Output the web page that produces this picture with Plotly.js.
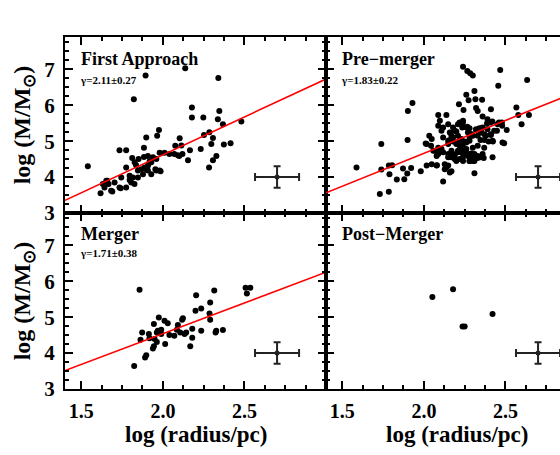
<!DOCTYPE html>
<html>
<head>
<meta charset="utf-8">
<script src="https://cdn.plot.ly/plotly-3.0.1.min.js"></script>
<style>
html,body{margin:0;padding:0;overflow:hidden;background:#fff;width:560px;height:455px;}
#plot{width:600px;height:455px;}
</style>
</head>
<body>
<div id="plot"></div>
<script>
// ---------------- data ----------------
const panelNames = ['First Approach', 'Pre\u2212merger', 'Merger', 'Post\u2212Merger'];
const gammaLabels = ['\u03b3=2.11\u00b10.27', '\u03b3=1.83\u00b10.22', '\u03b3=1.71\u00b10.38', ''];
const fitSlope = [2.11, 1.83, 1.71, null];
const fitIntercept = [0.40, 1.00, 1.12, null];
const xRange = [1.4, 3.0];
const yRange = [3.0, 7.9];
const xTickVals = [1.5, 2.0, 2.5];
const xTickText = ['1.5', '2.0', '2.5'];
const yTickVals = [3, 4, 5, 6, 7];
const xTitle = 'log (radius/pc)';
const yTitle = 'log (M/M<sub>\u2299</sub>)';

// typical error bar shown in each panel
const errX = [2.7];
const errY = [4.0];
const errDx = [0.135];
const errDy = [0.3];

// First Approach
const faX = [1.54,2.137,1.894,2.34,1.822,2.178,2.346,2.178,2.248,2.337,2.368,2.481,2.252,2.285,2.307,2.297,2.374,2.415,2.328,2.307,2.283,2.232,2.166,2.103,2.113,2.076,2.092,2.12,2.154,2.10,1.976,1.965,1.898,1.884,1.734,1.775,1.98,2.01,2.04,2.07,1.812,1.884,1.908,1.929,1.96,1.775,1.836,1.847,1.867,1.888,1.908,1.929,1.96,1.986,1.816,1.806,1.826,1.796,1.745,1.734,1.775,1.704,1.653,1.642,1.618,1.683,1.667,1.919,1.939,1.851,1.827,1.898,1.954,1.878,1.847,1.796,1.741,1.69,1.632,1.659,1.98,1.909];
const faY = [4.30,7.03,6.83,6.76,6.17,5.94,5.84,5.66,5.66,5.61,5.47,5.55,5.17,5.25,5.09,4.92,4.91,4.94,4.59,4.47,4.27,4.78,4.75,5.08,4.88,4.87,4.61,4.64,4.47,4.59,5.31,5.15,5.10,4.82,4.75,4.75,4.68,4.68,4.64,4.64,4.53,4.56,4.59,4.41,4.50,4.27,4.33,4.18,4.22,4.27,4.18,4.08,4.18,4.16,3.99,3.85,3.81,4.04,3.99,3.71,3.71,3.85,3.90,3.71,3.55,3.62,3.81,4.44,4.55,4.50,4.41,4.22,4.22,4.08,3.99,3.92,3.69,3.60,3.81,3.90,4.18,4.32];

// Pre-merger
const pmX = [1.587,1.739,1.90,1.902,1.93,1.739,1.785,1.805,1.789,1.834,1.88,1.872,1.898,1.922,1.73,1.785,1.981,2.044,2.08,2.068,
  2.24,2.266,2.284,2.30,2.468,2.633,2.456,2.31,2.274,2.567,2.579,2.644,2.599,2.508,2.492,
  2.26,2.316,2.357,2.215,2.243,2.32,2.33,2.411,2.088,2.138,2.36,2.39,2.42,2.46,2.48,
  2.098,2.088,2.118,2.108,2.149,2.179,2.159,2.189,2.209,2.239,2.26,2.235,2.033,2.048,2.017,2.27,2.29,2.32,2.35,2.36,2.39,2.38,2.41,2.431,2.421,2.482,
  2.118,2.149,2.179,2.199,2.219,2.239,2.26,2.28,2.30,2.25,2.229,2.209,2.189,2.169,2.149,2.118,2.078,2.058,2.088,2.239,2.27,2.30,2.33,2.36,2.37,2.33,2.31,2.28,2.199,2.219,
  2.048,2.017,2.078,2.149,2.159,2.128,2.421,2.31,2.118,
  2.219,2.24,2.266,2.28,2.32,2.34,2.355,2.387,2.407,2.452,2.478,2.448,2.411,2.371,2.199,2.209,2.23,2.25,2.28,2.30,2.33,2.347,2.371,2.397,2.423,2.169,2.159,2.179,2.149,2.199,2.219,2.24,2.26,2.209,2.23,2.25,2.27,2.29,2.31,2.33,2.347,2.367,2.169,2.179,2.189,2.24,2.28,2.30,2.149,2.108,2.088,2.138,2.169,2.088,2.128,2.011];
const pmY = [4.27,4.92,5.03,5.84,6.06,4.21,4.32,4.33,4.08,3.93,3.94,4.24,4.10,4.25,3.53,3.59,4.16,4.87,4.33,4.73,
  7.07,6.95,6.89,6.83,6.98,6.70,6.54,6.40,6.14,5.935,5.73,5.73,5.47,5.31,4.94,
  6.29,6.17,6.15,6.03,5.87,5.92,5.84,5.89,5.73,5.73,5.69,5.61,5.55,5.52,5.43,
  5.57,5.43,5.38,5.29,5.47,5.38,5.24,5.29,5.47,5.52,5.38,5.38,5.15,5.06,4.92,5.24,5.20,5.33,5.24,5.38,5.33,5.15,5.19,5.29,5.01,4.96,
  5.10,5.01,5.10,4.96,5.01,4.92,4.96,5.01,4.82,4.73,4.82,4.69,4.59,4.55,4.64,4.69,4.59,4.73,4.73,4.55,4.59,4.55,4.59,4.64,4.82,4.87,4.45,4.45,4.45,4.50,
  4.36,4.32,4.32,4.32,4.13,4.22,4.55,4.11,3.88,
  5.52,5.57,5.40,5.36,5.31,5.36,5.36,5.49,5.52,5.47,5.52,5.29,5.17,5.19,5.27,5.15,5.06,4.99,5.10,5.15,5.15,5.03,5.03,4.99,4.99,5.15,5.03,4.99,4.92,4.92,4.87,4.82,4.78,4.73,4.69,4.64,4.64,4.66,4.64,4.53,4.55,4.53,4.73,4.64,4.50,4.45,4.45,4.45,4.55,4.78,4.82,4.27,4.16,4.64,4.36,4.935];

// Merger
const mgX = [1.857,2.204,2.315,2.507,2.536,2.515,2.29,2.235,2.20,2.286,2.29,2.123,2.118,1.975,2.01,2.03,1.945,2.092,2.086,1.99,1.969,1.963,1.99,2.04,2.07,2.106,2.133,2.143,2.18,2.235,2.327,2.323,2.368,1.873,1.863,1.914,1.918,1.949,1.963,1.945,1.939,2.014,2.18,2.168,1.898,1.891,1.824];
const mgY = [5.76,5.61,5.74,5.82,5.82,5.66,5.41,5.24,5.18,5.10,4.93,4.97,4.93,4.99,4.90,4.83,4.81,4.78,4.65,4.65,4.62,4.57,4.53,4.50,4.48,4.57,4.53,4.57,4.68,4.62,4.62,4.57,4.64,4.57,4.37,4.53,4.41,4.39,4.31,4.19,4.13,4.25,4.43,4.19,3.94,3.88,3.64];

// Post-Merger
const poX = [2.052,2.179,2.237,2.25,2.421];
const poY = [5.56,5.78,4.74,4.74,5.09];

const panelX = [faX, pmX, mgX, poX];
const panelY = [faY, pmY, mgY, poY];

// ---------------- drawing ----------------
const FONT = 'Liberation Serif, Times New Roman, serif';
const axisSuffix = ['', '2', '3', '4'];
const traces = [];
const annotations = [];

for (let i = 0; i < 4; i++) {
  const xa = 'x' + axisSuffix[i], ya = 'y' + axisSuffix[i];
  traces.push({
    type: 'scatter', mode: 'markers', x: panelX[i], y: panelY[i],
    xaxis: xa, yaxis: ya, marker: {color: '#000', size: 6}, showlegend: false, hoverinfo: 'skip'
  });
  traces.push({
    type: 'scatter', mode: 'markers', x: errX, y: errY, xaxis: xa, yaxis: ya,
    marker: {color: '#222', size: 5},
    error_x: {type: 'data', array: errDx, color: '#222', thickness: 2, width: 4},
    error_y: {type: 'data', array: errDy, color: '#222', thickness: 2, width: 3.5},
    showlegend: false, hoverinfo: 'skip'
  });
  if (fitSlope[i] !== null) {
    traces.push({
      type: 'scatter', mode: 'lines', x: xRange,
      y: xRange.map(v => fitSlope[i] * v + fitIntercept[i]),
      xaxis: xa, yaxis: ya, line: {color: '#ff0000', width: 1.6}, showlegend: false, hoverinfo: 'skip'
    });
  }
  const top = i < 2;
  annotations.push({
    xref: xa + ' domain', yref: ya + ' domain', x: 0.052, y: top ? 0.876 : 0.88,
    xanchor: 'left', yanchor: 'middle', showarrow: false, text: panelNames[i],
    font: {family: FONT, size: 18, color: '#000', weight: 'bold'}
  });
  if (gammaLabels[i]) {
    annotations.push({
      xref: xa + ' domain', yref: ya + ' domain', x: 0.05, y: top ? 0.757 : 0.771,
      xanchor: 'left', yanchor: 'middle', showarrow: false, text: gammaLabels[i],
      font: {family: FONT, size: 11, color: '#000', weight: 'bold'}
    });
  }
  if (!top) {
    // x-axis title under each bottom panel
    annotations.push({
      xref: xa + ' domain', yref: 'paper', x: 0.5, y: -0.13,
      xanchor: 'center', yanchor: 'middle', showarrow: false, text: xTitle,
      font: {family: FONT, size: 23, color: '#000', weight: 'bold'}
    });
  }
}

function xAxis(domain, showLabels, anchor) {
  return {
    domain: domain, range: xRange, anchor: anchor,
    tickmode: 'array', tickvals: xTickVals, ticktext: xTickText,
    ticks: 'inside', ticklen: 8, tickwidth: 2, tickcolor: '#000',
    minor: {dtick: 0.125, tick0: 1.5, ticks: 'inside', ticklen: 4, tickwidth: 2, tickcolor: '#000', showgrid: false},
    showline: true, linecolor: '#000', linewidth: 2, mirror: 'allticks',
    showgrid: false, zeroline: false, showticklabels: showLabels, ticklabelstandoff: 3,
    tickfont: {family: FONT, size: 20, color: '#000', weight: 'bold'},
    automargin: false, fixedrange: true
  };
}
function yAxis(domain, showLabels, anchor) {
  const ax = {
    domain: domain, range: yRange, anchor: anchor,
    tickmode: 'array', tickvals: yTickVals,
    ticks: 'inside', ticklen: 8, tickwidth: 2, tickcolor: '#000',
    minor: {dtick: 0.25, tick0: 3, ticks: 'inside', ticklen: 4, tickwidth: 2, tickcolor: '#000', showgrid: false},
    showline: true, linecolor: '#000', linewidth: 2, mirror: 'allticks',
    showgrid: false, zeroline: false, showticklabels: showLabels, ticklabelstandoff: 4,
    tickfont: {family: FONT, size: 21, color: '#000', weight: 'bold'},
    automargin: false, fixedrange: true
  };
  if (showLabels) ax.title = {text: yTitle, standoff: 7, font: {family: FONT, size: 24, color: '#000', weight: 'bold'}};
  return ax;
}

const layout = {
  width: 600, height: 455,
  margin: {l: 65, r: 13, t: 37, b: 66},
  paper_bgcolor: '#fff', plot_bgcolor: '#fff',
  xaxis: xAxis([0, 0.5], false, 'y'),
  yaxis: yAxis([0.5, 1], true, 'x'),
  xaxis2: xAxis([0.5, 1], false, 'y2'),
  yaxis2: yAxis([0.5, 1], false, 'x2'),
  xaxis3: xAxis([0, 0.5], true, 'y3'),
  yaxis3: yAxis([0, 0.5], true, 'x3'),
  xaxis4: xAxis([0.5, 1], true, 'y4'),
  yaxis4: yAxis([0, 0.5], false, 'x4'),
  annotations: annotations,
  showlegend: false
};

Plotly.newPlot('plot', traces, layout, {staticPlot: true, displayModeBar: false});
</script>
</body>
</html>
